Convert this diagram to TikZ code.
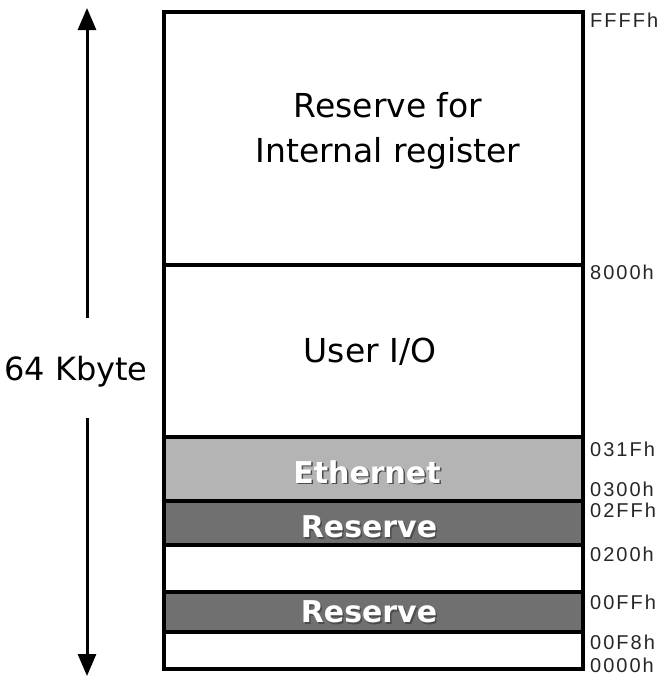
\documentclass[tikz,border=0pt]{standalone}
\usepackage{fontspec}
\setmainfont{DejaVu Sans}
\newfontfamily\lblfont[LetterSpace=10]{Liberation Sans}
\usetikzlibrary{arrows.meta}
\definecolor{ethgray}{HTML}{B4B4B4}
\definecolor{resgray}{HTML}{707070}
\tikzset{
  region/.style={draw=black,line width=3.4pt},
  bigtext/.style={font=\fontsize{33}{45}\selectfont,align=center},
  bandtext/.style={font=\fontsize{30}{36}\selectfont\bfseries,text=white},
  bandshadow/.style={font=\fontsize{30}{36}\selectfont\bfseries,text=black!70},
  addr/.style={anchor=west,font=\lblfont\fontsize{20}{22}\selectfont,text=black!85,inner sep=0pt},
  sizearrow/.style={line width=3pt,-{Triangle[width=18pt,length=22pt]}}
}
\begin{document}
\begin{tikzpicture}[x=1pt,y=-1pt]
\useasboundingbox (0,0) rectangle (669,680);
% bands
\fill[ethgray] (164,437) rectangle (583,501);
\fill[resgray] (164,501) rectangle (583,545);
\fill[resgray] (164,592) rectangle (583,632);
% outlines
\draw[region] (164,12) rectangle (583,669);
\draw[region] (164,265) -- (583,265);
\draw[region] (164,437) -- (583,437);
\draw[region] (164,501) -- (583,501);
\draw[region] (164,545) -- (583,545);
\draw[region] (164,592) -- (583,592);
\draw[region] (164,632) -- (583,632);
% region texts
\node[bigtext] (rsv) at (388,131) {Reserve for\\Internal register};
\node[bigtext] (uio) at (370,352) {User I/O};
\node[bandshadow] at (368.5,473.5) {Ethernet};
\node[bandtext] (eth) at (367,472) {Ethernet};
\node[bandshadow] at (370.5,528.5) {Reserve};
\node[bandtext] (res1) at (369,527) {Reserve};
\node[bandshadow] at (370.5,613.5) {Reserve};
\node[bandtext] (res2) at (369,612) {Reserve};
% addresses
\node[addr] (aFFFF) at (590,20) {FFFFh};
\node[addr] (a8000) at (590,272) {8000h};
\node[addr] (a031F) at (590,449) {031Fh};
\node[addr] (a0300) at (590,489) {0300h};
\node[addr] (a02FF) at (590,510) {02FFh};
\node[addr] (a0200) at (590,554) {0200h};
\node[addr] (a00FF) at (590,602) {00FFh};
\node[addr] (a00F8) at (590,642) {00F8h};
\node[addr] (a0000) at (590,665) {0000h};
% size arrow
\node[font=\fontsize{32}{36}\selectfont] (kb) at (76,372) {64 Kbyte};
\coordinate (top) at (87,8);
\coordinate (bot) at (87,676);
\coordinate (upA) at (87,318);
\coordinate (loA) at (87,418);
\draw[sizearrow] (upA) -- (top);
\draw[sizearrow] (loA) -- (bot);
\end{tikzpicture}
\end{document}
